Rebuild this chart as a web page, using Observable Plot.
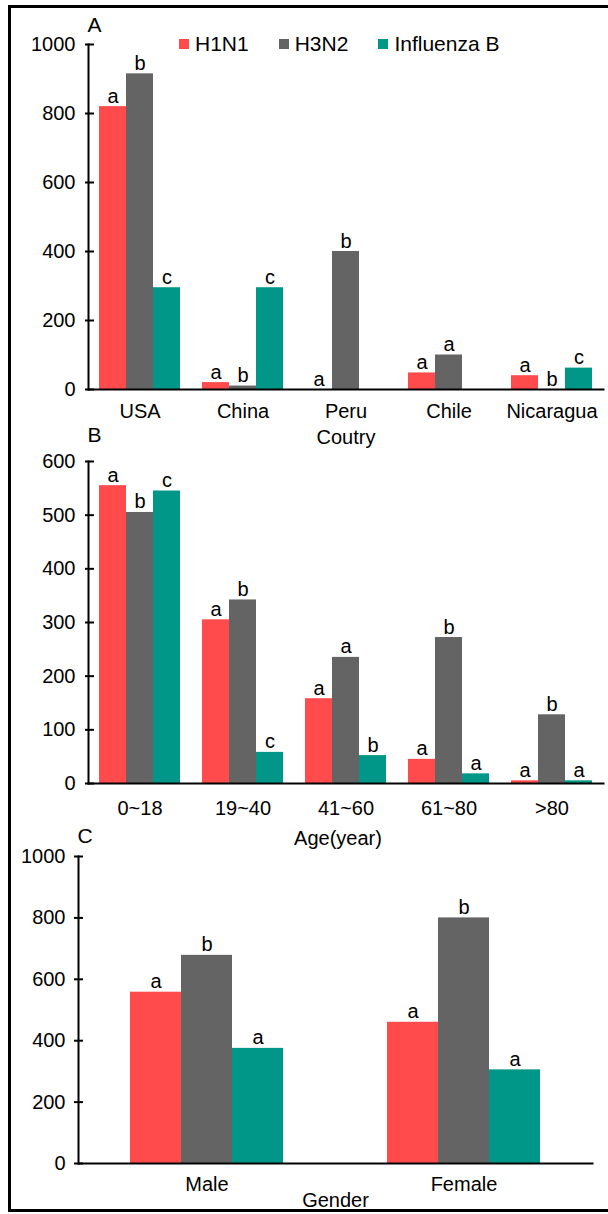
<!DOCTYPE html>
<html><head><meta charset="utf-8">
<script src="https://cdn.jsdelivr.net/npm/d3@7"></script>
<script src="https://cdn.jsdelivr.net/npm/@observablehq/plot@0.6"></script>
<style>
body{margin:0;background:#fff;font-family:"Liberation Sans",Arial,sans-serif;}
#page{position:relative;width:608px;height:1214px;overflow:hidden;background:#fff;}
#border{position:absolute;left:8px;top:5px;width:606px;height:1207px;border:3px solid #000;box-sizing:border-box;}
.panel{position:absolute;left:0;}
.panel svg{overflow:visible;}
#legend{position:absolute;left:179px;top:27px;}
#legend span[class$="-swatch"]{margin-right:30px;}
#legend span[class$="-swatch"] > svg{margin-right:6px;}
</style></head><body><div id="page"><div id="border"></div></div>
<script>
const series = ["H1N1", "H3N2", "Influenza B"];
const colors = ["#ff4b4b", "#646464", "#009688"];

// Panel A: country
const countries = ["USA", "China", "Peru", "Chile", "Nicaragua"];
const countryH1N1 = [820, 20, 0, 48, 40];
const countryH3N2 = [915, 10, 400, 100, 0];
const countryInfB = [295, 295, null, null, 62];
const countryLetH1N1 = ["a", "a", "a", "a", "a"];
const countryLetH3N2 = ["b", "b", "b", "a", "b"];
const countryLetInfB = ["c", "c", null, null, "c"];
const countryTicks = [0, 200, 400, 600, 800, 1000];

// Panel B: age
const ages = ["0~18", "19~40", "41~60", "61~80", ">80"];
const ageH1N1 = [555, 305, 158, 45, 5];
const ageH3N2 = [505, 342, 235, 272, 128];
const ageInfB = [545, 58, 52, 18, 5];
const ageLetH1N1 = ["a", "a", "a", "a", "a"];
const ageLetH3N2 = ["b", "b", "a", "b", "b"];
const ageLetInfB = ["c", "c", "b", "a", "a"];
const ageTicks = [0, 100, 200, 300, 400, 500, 600];

// Panel C: gender
const genders = ["Male", "Female"];
const genderH1N1 = [558, 460];
const genderH3N2 = [678, 800];
const genderInfB = [375, 305];
const genderLetH1N1 = ["a", "a"];
const genderLetH3N2 = ["b", "b"];
const genderLetInfB = ["a", "a"];
const genderTicks = [0, 200, 400, 600, 800, 1000];

function rowsOf(cats, vals, lets) {
  const out = [];
  cats.forEach((c, i) => {
    series.forEach((s, j) => {
      out.push({cat: c, series: s, value: vals[j][i], letter: lets[j][i]});
    });
  });
  return out;
}

const FONT = "'Liberation Sans', Arial, sans-serif";
const FS = 20;

function place(node, top) {
  const div = document.createElement("div");
  div.className = "panel";
  div.style.top = top + "px";
  div.appendChild(node);
  document.getElementById("page").appendChild(div);
}

function panel(o) {
  const rows = rowsOf(o.cats, o.vals, o.lets);
  const plot = Plot.plot({
    width: 608,
    height: o.height,
    marginTop: o.marginTop,
    marginBottom: o.marginBottom,
    marginLeft: o.marginLeft,
    marginRight: o.marginRight,
    style: {fontFamily: FONT, fontSize: FS + "px", color: "#000", background: "transparent", overflow: "visible"},
    fx: {domain: o.cats, padding: 0, label: null},
    x: {domain: series, paddingInner: 0, paddingOuter: o.padOuter, axis: null},
    y: {domain: [0, o.max], axis: null},
    color: {domain: series, range: colors},
    marks: [
      Plot.barY(rows.filter(d => d.value != null), {fx: "cat", x: "series", y: "value", fill: "series"}),
      Plot.text(rows.filter(d => d.letter != null), {fx: "cat", x: "series", y: d => d.value ?? 0, text: "letter", lineAnchor: "bottom", dy: -4, fontSize: FS, fill: "#000"}),
      Plot.axisY({ticks: o.ticks, tickSize: 0, tickPadding: 13, tickFormat: d => String(d), fontSize: FS, label: null}),
      Plot.axisFx({anchor: "bottom", tickSize: 0, tickPadding: o.fxPad, label: null, fontSize: FS}),
      Plot.frame({anchor: "left", facet: "super", strokeWidth: 2}),
      Plot.frame({anchor: "bottom", facet: "super", strokeWidth: 2}),
      Plot.text([o.title], {facet: "super", frameAnchor: "bottom", lineAnchor: "middle", text: d => d, dy: o.titleDy, dx: o.titleDx, fontSize: FS}),
      Plot.text([o.letter], {facet: "super", frameAnchor: "top-left", lineAnchor: "middle", text: d => d, textAnchor: "start", dy: o.letterDy, dx: -1, fontSize: 21})
    ]
  });
  place(plot, o.top);

  // y-axis tick marks (crossing the axis line, mostly inward)
  const ticks = Plot.plot({
    width: 608,
    height: o.height,
    marginTop: o.marginTop,
    marginBottom: o.marginBottom,
    marginLeft: o.marginLeft - 3,
    marginRight: 608 - o.marginLeft - 6,
    style: {background: "transparent", overflow: "visible"},
    y: {domain: [0, o.max], axis: null},
    marks: [Plot.ruleY(o.ticks, {y: d => d, stroke: "#000", strokeWidth: 2})]
  });
  place(ticks, o.top);
}

panel({
  cats: countries,
  vals: [countryH1N1, countryH3N2, countryInfB],
  lets: [countryLetH1N1, countryLetH3N2, countryLetInfB],
  ticks: countryTicks, max: 1000,
  top: 0, height: 425, marginTop: 44, marginBottom: 36, marginLeft: 88, marginRight: 5,
  padOuter: 0.36, fxPad: 14, title: "Coutry", titleDy: 48, titleDx: 0, letter: "A", letterDy: -19
});
panel({
  cats: ages,
  vals: [ageH1N1, ageH3N2, ageInfB],
  lets: [ageLetH1N1, ageLetH3N2, ageLetInfB],
  ticks: ageTicks, max: 600,
  top: 425, height: 420, marginTop: 36, marginBottom: 62, marginLeft: 88, marginRight: 5,
  padOuter: 0.36, fxPad: 17, title: "Age(year)", titleDy: 55, titleDx: -8, letter: "B", letterDy: -26
});
panel({
  cats: genders,
  vals: [genderH1N1, genderH3N2, genderInfB],
  lets: [genderLetH1N1, genderLetH3N2, genderLetInfB],
  ticks: genderTicks, max: 1000,
  top: 845, height: 369, marginTop: 11, marginBottom: 51, marginLeft: 77, marginRight: 16,
  padOuter: 0.99, fxPad: 13, title: "Gender", titleDy: 37, titleDx: 0, letter: "C", letterDy: -20
});

const leg = Plot.legend({color: {domain: series, range: colors}, legend: "swatches", swatchSize: 10, style: {fontFamily: FONT, fontSize: "21px", color: "#000"}});
const ld = document.createElement("div");
ld.id = "legend";
ld.appendChild(leg);
document.getElementById("page").appendChild(ld);
</script>
</body></html>
